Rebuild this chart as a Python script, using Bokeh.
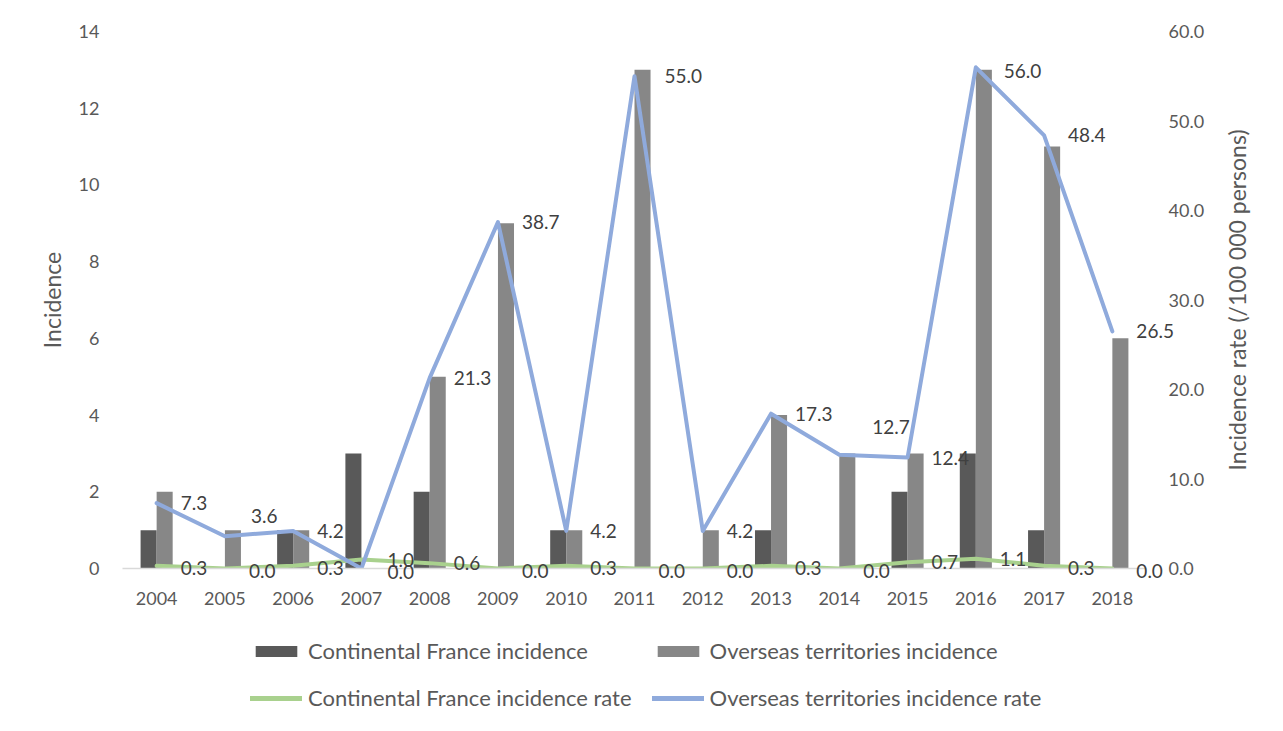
import math
from bokeh.plotting import figure
from bokeh.layouts import column
from bokeh.models import (ColumnDataSource, Range1d, LinearAxis, FixedTicker,
                          NumeralTickFormatter, Legend, LegendItem)
from bokeh.transform import dodge
from bokeh.core.properties import value
from bokeh.embed import file_html
from bokeh.resources import INLINE

years = ["2004", "2005", "2006", "2007", "2008", "2009", "2010", "2011",
         "2012", "2013", "2014", "2015", "2016", "2017", "2018"]
cont_incidence = [1, 0, 1, 3, 2, 0, 1, 0, 0, 1, 0, 2, 3, 1, 0]
over_incidence = [2, 1, 1, 0, 5, 9, 1, 13, 1, 4, 3, 3, 13, 11, 6]
cont_rate = [0.3, 0.0, 0.3, 1.0, 0.6, 0.0, 0.3, 0.0, 0.0, 0.3, 0.0, 0.7, 1.1, 0.3, 0.0]
over_rate = [7.3, 3.6, 4.2, 0.0, 21.3, 38.7, 4.2, 55.0, 4.2, 17.3, 12.7, 12.4, 56.0, 48.4, 26.5]
series_names = ["Continental France incidence", "Overseas territories incidence",
                "Continental France incidence rate", "Overseas territories incidence rate"]

# label offsets in px (style only; positive dy = up): a few labels were moved in the original
over_dx = [24, 26, 24, 26, 24, 24, 24, 30, 24, 24, 33, 24, 28, 24, 24]
over_dy = [0, 20, 0, -3, 0, 0, 0, 0, 0, 0, 28, 0, -4, 0, 0]
cont_dx = [24, 24, 24, 26, 24, 24, 24, 24, 24, 24, 24, 24, 24, 24, 24]
cont_dy = [-2, -2, -2, 0, 0, -2, -2, -2, -2, -2, -2, 0, 0, -2, -2]

src = ColumnDataSource(dict(
    year=years, ci=cont_incidence, oi=over_incidence, cr=cont_rate, orr=over_rate,
    cr_txt=[f"{v:.1f}" for v in cont_rate], or_txt=[f"{v:.1f}" for v in over_rate],
    odx=over_dx, ody=[-d for d in over_dy], cdx=cont_dx, cdy=[-d for d in cont_dy],
))

FONT = "Lato"
TICK_COL = "#595959"
LAB_COL = "#404040"
RIGHT_TITLE = "Incidence rate (/100 000 persons)"
C_CONT_BAR, C_OVER_BAR = "#595959", "#878787"
C_CONT_LINE, C_OVER_LINE = "#A9D18E", "#8FAADC"
BW = 0.235


def draw_series(fig, lw=4):
    """Draw the four series on fig; returns the renderers in series_names order."""
    a = fig.vbar(x=dodge("year", -BW / 2, range=fig.x_range), top="ci", width=BW, source=src,
                 fill_color=C_CONT_BAR, line_color=None)
    b = fig.vbar(x=dodge("year", BW / 2, range=fig.x_range), top="oi", width=BW, source=src,
                 fill_color=C_OVER_BAR, line_color=None)
    c = fig.line(x="year", y="cr", source=src, y_range_name="rate",
                 line_color=C_CONT_LINE, line_width=lw, line_join="round", line_cap="round")
    d = fig.line(x="year", y="orr", source=src, y_range_name="rate",
                 line_color=C_OVER_LINE, line_width=lw, line_join="round", line_cap="round")
    return [a, b, c, d]


p = figure(x_range=years, y_range=Range1d(0, 14),
           frame_width=1024, frame_height=537,
           min_border_left=122, min_border_right=121, min_border_top=31, min_border_bottom=62,
           output_backend="svg", toolbar_location=None, background_fill_color="white",
           border_fill_color="white")
p.outline_line_color = None
p.grid.visible = False
rate_range = Range1d(0, 60)
p.extra_y_ranges = {"rate": rate_range}
draw_series(p)

for col, txt, dx, dy in (("cr", "cr_txt", "cdx", "cdy"), ("orr", "or_txt", "odx", "ody")):
    p.text(x="year", y=col, text=txt, source=src, y_range_name="rate",
           x_offset=dx, y_offset=dy, text_align="left", text_baseline="middle",
           text_font=value(FONT), text_font_size="19px", text_color=LAB_COL,
           level="overlay")

# left axis
ax = p.yaxis[0]
ax.ticker = FixedTicker(ticks=[0, 2, 4, 6, 8, 10, 12, 14])
ax.axis_label = "Incidence"
ax.axis_line_color = None
ax.major_tick_line_color = None
ax.minor_tick_line_color = None
ax.major_label_standoff = 17
ax.axis_label_standoff = 10

# right axis
rax = LinearAxis(y_range_name="rate", ticker=FixedTicker(ticks=[0, 10, 20, 30, 40, 50, 60]),
                 formatter=NumeralTickFormatter(format="0.0"))
rax.axis_line_color = None
rax.major_tick_line_color = None
rax.minor_tick_line_color = None
rax.major_label_standoff = 16
p.add_layout(rax, "right")

# right axis title, reading bottom-to-top as in the original
p.text(x=[years[-1]], y=[(rate_range.start + rate_range.end) / 2], text=[RIGHT_TITLE],
       y_range_name="rate", x_offset=125, angle=math.pi / 2, text_align="center",
       text_baseline="middle", text_font=value(FONT), text_font_size="23px",
       text_color=TICK_COL, level="overlay")

xa = p.xaxis[0]
xa.axis_line_color = "#D9D9D9"
xa.axis_line_width = 1.5
xa.major_tick_line_color = None
xa.minor_tick_line_color = None
xa.major_label_standoff = 17

for a in (ax, rax, xa):
    a.major_label_text_font = FONT
    a.major_label_text_font_size = "18px"
    a.major_label_text_color = TICK_COL
    a.axis_label_text_font = FONT
    a.axis_label_text_font_size = "23px"
    a.axis_label_text_font_style = "normal"
    a.axis_label_text_color = TICK_COL

# legend strip below the chart: same series, drawn outside this strip's visible range
lf = figure(width=1267, height=85, min_border=0, output_backend="svg",
            toolbar_location=None, x_range=years, y_range=Range1d(1000, 1001))
lf.extra_y_ranges = {"rate": Range1d(1000, 1001)}
lf.axis.visible = False
lf.grid.visible = False
lf.outline_line_color = None
g = draw_series(lf, lw=5)

order = [0, 2, 1, 3]  # column-major fill -> rows: incidences, then rates
legend = Legend(items=[LegendItem(label=series_names[i], renderers=[g[i]]) for i in order],
                ncols=2, location=(128, 4), padding=0, margin=0, spacing=20,
                glyph_width=52, glyph_height=14, label_standoff=6, border_line_color=None,
                background_fill_alpha=0, label_text_font=FONT, label_text_font_size="22px",
                label_text_color=TICK_COL, label_height=22)
lf.add_layout(legend, "center")

layout = column(p, lf, spacing=0)
open("out.html", "w").write(file_html(layout, INLINE))
